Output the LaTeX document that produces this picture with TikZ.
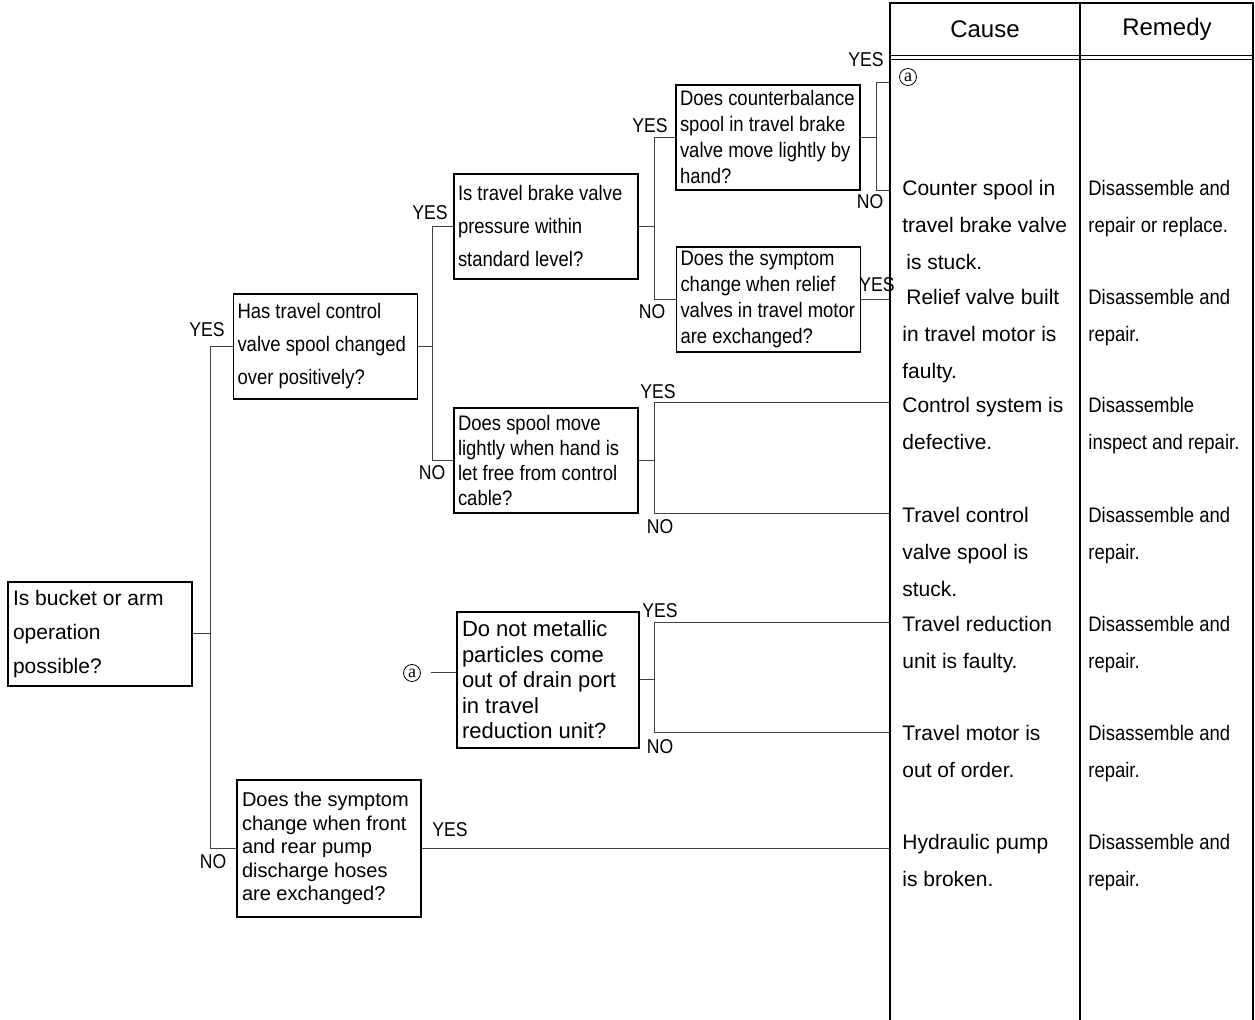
\documentclass[tikz,border=0pt]{standalone}
\usepackage{fontspec}
\setmainfont{Liberation Sans}
\newfontfamily\narrowfont[FakeStretch=0.88, WordSpace=0.65]{Liberation Sans}
\newfontfamily\remedyfont[FakeStretch=0.88]{Liberation Sans}
\newfontfamily\markfont{Liberation Serif}

\tikzset{
	qbox/.style={draw, line width=0.65pt, minimum width=92pt, minimum height=52.5pt, text width=88pt, inner xsep=2pt, inner ysep=1pt, align=flush left},
	narrowq/.style={font=\narrowfont\fontsize{10.5}{#1}\selectfont},
	plainq/.style={font=\fontsize{10.5}{#1}\selectfont},
	answer/.style={font=\narrowfont\fontsize{10}{10}\selectfont, inner sep=0pt},
	link/.style={line width=0.5pt, color=black!75},
	tabline/.style={line width=0.75pt},
	cause/.style={anchor=north west, inner sep=0pt, align=left, font=\fontsize{10.5}{18.5}\selectfont},
	remedy/.style={anchor=north west, inner sep=0pt, align=left, font=\remedyfont\fontsize{10.5}{18.5}\selectfont},
	circmark/.style={circle, draw, line width=0.4pt, inner sep=0pt, minimum size=8.5pt, font=\markfont\fontsize{9}{9}\selectfont}
}

\begin{document}
\begin{tikzpicture}[x=0.5pt, y=-0.5pt]
	\useasboundingbox (0,0) rectangle (1255,1020);

	\coordinate (s1) at (210,0);
	\coordinate (s2) at (432,0);
	\coordinate (s3) at (654,0);
	\coordinate (s4) at (876,0);
	\coordinate (tl) at (890,0);
	\coordinate (g1) at (654,623);
	\coordinate (g2) at (654,733);

	\draw[tabline] (890,1020) -- (890,3) -- (1253,3) -- (1253,1020);
	\draw[tabline] (1080,3) -- (1080,1020);
	\draw[line width=0.5pt] (890,55.5) -- (1253,55.5);
	\draw[line width=0.5pt] (890,59.5) -- (1253,59.5);
	\node[font=\fontsize{12}{12}\selectfont] (hcause) at (985,29) {Cause};
	\node[font=\fontsize{12}{12}\selectfont] (hremedy) at (1167,29) {Remedy};

	\node[qbox, plainq=17pt, inner xsep=2.5pt, text width=87pt, minimum height=52pt] (bucket) at (100,634) {Is bucket or arm\\operation\\possible?};
	\node[qbox, narrowq=16.5pt] (spool) at (325.5,346.5) {Has travel control\\valve spool changed\\over positively?};
	\node[qbox, narrowq=16.5pt] (brake) at (546,226.5) {Is travel brake valve\\pressure within\\standard level?};
	\node[qbox, narrowq=12.5pt] (cable) at (546,460.5) {Does spool move\\lightly when hand is\\let free from control\\cable?};
	\node[qbox, narrowq=13pt] (counter) at (768,137.5) {Does counterbalance\\spool in travel brake\\valve move lightly by\\hand?};
	\node[qbox, narrowq=13pt] (relief) at (768.5,299.5) {Does the symptom\\change when relief\\valves in travel motor\\are exchanged?};
	\node[qbox, font=\fontsize{11}{12.75}\selectfont, minimum width=91pt, text width=86pt, inner xsep=2.5pt, minimum height=68pt] (metal) at (548,680) {Do not metallic\\particles come\\out of drain port\\in travel\\reduction unit?};
	\node[qbox, font=\fontsize{10}{11.75}\selectfont, inner xsep=2.5pt, text width=87pt, minimum height=68.5pt] (pump) at (329,848.5) {Does the symptom\\change when front\\and rear pump\\discharge hoses\\are exchanged?};
	\node[circmark] (marka) at (412,673) {a};
	\node[circmark] (markb) at (908,77) {a};

	\draw[link] (bucket.east) -- (bucket.east -| s1);
	\draw[link] (spool.west) -- (spool.west -| s1) |- (pump.west);
	\draw[link] (spool.east) -- (spool.east -| s2);
	\draw[link] (brake.west) -- (brake.west -| s2) |- (cable.west);
	\draw[link] (brake.east) -- (brake.east -| s3);
	\draw[link] (counter.west) -- (counter.west -| s3) |- (relief.west);
	\draw[link] (counter.east) -- (counter.east -| s4);
	\draw[link] ([yshift=1pt]counter.north -| tl) -- ([yshift=1pt]counter.north -| s4) -- (counter.south -| s4) -- (counter.south -| tl);
	\draw[link] (relief.east) -- (relief.east -| tl);
	\draw[link] (cable.east) -- (cable.east -| s3);
	\draw[link] ([yshift=2.5pt]cable.north -| tl) -- ([yshift=2.5pt]cable.north -| s3) -- (cable.south -| s3) -- (cable.south -| tl);
	\draw[link] (metal.east) -- (metal.east -| s3);
	\draw[link] (g1 -| tl) -- (g1) -- (g2) -- (g2 -| tl);
	\draw[link] ([xshift=5pt]marka.east) -- (marka.east -| metal.west);
	\draw[link] (pump.east) -- (pump.east -| tl);

	\node[answer] (y1) at (207,330) {YES};
	\node[answer] (n1) at (213,862) {NO};
	\node[answer] (y2) at (430,213) {YES};
	\node[answer] (n2) at (432,473) {NO};
	\node[answer] (y3) at (650,126) {YES};
	\node[answer] (n3) at (652,312) {NO};
	\node[answer] (y4) at (866,60) {YES};
	\node[answer] (n4) at (870,202) {NO};
	\node[answer] (y5) at (877,285) {YES};
	\node[answer] (y6) at (658,392) {YES};
	\node[answer] (n6) at (660,527) {NO};
	\node[answer] (y7) at (660,611) {YES};
	\node[answer] (n7) at (660,747) {NO};
	\node[answer] (y8) at (450,830) {YES};

	\node[cause] (c1) at (902,180) {Counter spool in\\travel brake valve\\\hspace*{2pt}is stuck.};
	\node[cause] (c2) at (902,289) {\hspace*{2pt}Relief valve built\\in travel motor is\\faulty.};
	\node[cause] (c3) at (902,397) {Control system is\\defective.};
	\node[cause] (c4) at (902,507) {Travel control\\valve spool is\\stuck.};
	\node[cause] (c5) at (902,616) {Travel reduction\\unit is faulty.};
	\node[cause] (c6) at (902,725) {Travel motor is\\out of order.};
	\node[cause] (c7) at (902,834) {Hydraulic pump\\is broken.};

	\node[remedy] (r1) at (1088,180) {Disassemble and\\repair or replace.};
	\node[remedy] (r2) at (1088,289) {Disassemble and\\repair.};
	\node[remedy] (r3) at (1088,397) {Disassemble\\inspect and repair.};
	\node[remedy] (r4) at (1088,507) {Disassemble and\\repair.};
	\node[remedy] (r5) at (1088,616) {Disassemble and\\repair.};
	\node[remedy] (r6) at (1088,725) {Disassemble and\\repair.};
	\node[remedy] (r7) at (1088,834) {Disassemble and\\repair.};
\end{tikzpicture}
\end{document}
